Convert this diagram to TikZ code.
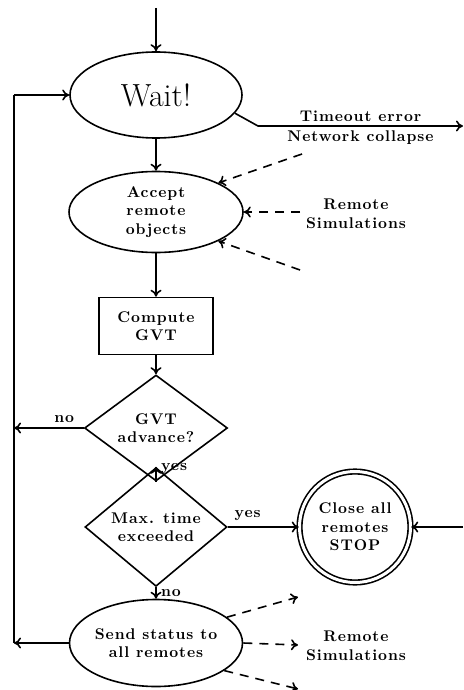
\documentclass[tikz,border=0pt]{standalone}
\usepackage{fontspec}
\usetikzlibrary{shapes.geometric,arrows.meta}
\newfontfamily\spb{lmroman10}[Extension=.otf,UprightFont=*-regular,BoldFont=*-bold,LetterSpace=6]
\begin{document}
\begin{tikzpicture}[x=1pt,y=-1pt,
  lw/.style={line width=1.6pt},
  arr/.style={lw,-{To[length=7pt,width=11pt]}},
  darr/.style={arr,dash pattern=on 9pt off 7pt},
  lbl/.style={font=\fontsize{15.5}{18.5}\selectfont\spb\bfseries, align=center},
  ell/.style={ellipse,draw,lw,inner sep=0pt,lbl},
  dia/.style={diamond,draw,lw,inner sep=0pt,lbl},
  box/.style={rectangle,draw,lw,inner sep=0pt,lbl}]
\useasboundingbox (0,0) rectangle (463,690);
% nodes
\node[ell,minimum width=172pt,minimum height=86pt,font=\fontsize{32}{36}\selectfont] (wait) at (156,95) {Wait!};
\node[ell,minimum width=174pt,minimum height=81pt] (accept) at (156,212) {Accept\\remote\\objects};
\node[box,minimum width=114pt,minimum height=57pt] (compute) at (156,326) {Compute\\GVT};
\node[dia,minimum width=143pt,minimum height=86pt] (gvt) at (156,428) {GVT\\advance?};
\node[dia,minimum width=142pt,minimum height=96pt] (maxt) at (156,527) {Max. time\\exceeded};
\node[circle,draw,lw,double,double distance=3pt,minimum size=111pt,inner sep=0pt,lbl] (stop) at (355,527) {Close all\\remotes\\STOP};
\node[ell,minimum width=172pt,minimum height=87pt] (send) at (156,643) {Send status to\\all remotes};
\node[lbl] (rs1) at (356,214) {Remote\\Simulations};
\node[lbl] (rs2) at (356,646) {Remote\\Simulations};
% free ends
\coordinate (top) at (156,8);
\coordinate (lt) at (14,95);
\coordinate (lb) at (14,643);
\coordinate (tk) at (258,126);
\coordinate (te) at (463,126);
\coordinate (a1) at (302,154);
\coordinate (a2) at (300,212);
\coordinate (a3) at (300,270);
\coordinate (s1) at (298,597);
\coordinate (s2) at (298,645);
\coordinate (s3) at (298,689);
\coordinate (re) at (463,527);
% connectors
\draw[arr] (top) -- (wait.north);
\draw[lw] (lb) -- (lt);
\draw[arr] (lt) -- (wait.west);
\draw[arr] (wait.-13) -- (tk) -- (te)
  node[lbl,pos=0.5,above=0pt] (to) {Timeout error}
  node[lbl,pos=0.5,below=1pt] (nc) {Network collapse};
\draw[arr] (wait.south) -- (accept.north);
\draw[darr] (a1) -- (accept.25);
\draw[darr] (a2) -- (accept.east);
\draw[darr] (a3) -- (accept.-25);
\draw[arr] (accept.south) -- (compute.north);
\draw[arr] (compute.south) -- (gvt.north);
\draw[arr] (gvt.west) -- (gvt.west -| lt) node[lbl,pos=0.28,above=1pt] (no1) {no};
\draw[arr] (gvt.south) -- (maxt.north) node[lbl,pos=0.9,right=1pt] (yes1) {yes};
\draw[arr] (maxt.east) -- (stop.west) node[lbl,pos=0.28,above=2pt] (yes2) {yes};
\draw[arr] (re) -- (stop.east);
\draw[arr] (maxt.south) -- (send.north) node[lbl,pos=0.5,right=1pt] (no2) {no};
\draw[arr] (send.west) -- (lb);
\draw[darr] (send.20) -- (s1);
\draw[darr] (send.east) -- (s2);
\draw[darr] (send.-22) -- (s3);
\end{tikzpicture}
\end{document}
